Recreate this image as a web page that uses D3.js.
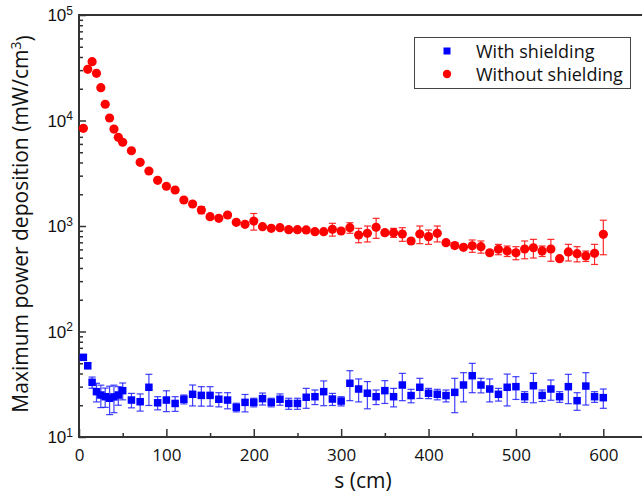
<!DOCTYPE html>
<html>
<head>
<meta charset="utf-8">
<script src="https://cdn.jsdelivr.net/npm/d3@7"></script>
<style>
  html, body { margin: 0; padding: 0; background: #fff; }
  svg { display: block; font-family: "Open Sans", "DejaVu Sans", sans-serif; }
</style>
</head>
<body>
<svg id="chart" width="642" height="496"></svg>
<script>
// ---- data ----
const sValues = [5,10,15,20,25,30,35,40,45,50,
  60,70,80,90,100,110,120,130,140,150,160,170,180,190,200,
  210,220,230,240,250,260,270,280,290,300,310,320,330,340,350,
  360,370,380,390,400,410,420,430,440,450,460,470,480,490,500,
  510,520,530,540,550,560,570,580,590,600];

const withoutShielding = [8430,30550,36100,28000,20450,14250,10560,8300,6930,6220,
  5170,4015,3320,2710,2380,2195,1763,1617,1418,1225,1183,1272,1084,1038,1114,
  985,951,964,923,923,917,883,883,931,897,964,822,853,973,865,
  865,840,721,840,793,853,695,653,628,650,637,558,602,580,558,
  605,622,580,605,490,568,547,520,551,834];

const withoutShieldingErr = [300,1000,1200,900,600,400,300,250,200,180,
  150,120,100,80,70,70,60,80,110,60,50,50,50,40,200,
  40,40,40,50,40,35,35,35,129,40,111,128,147,209,51,
  85,124,30,160,123,147,30,40,30,87,84,25,68,66,79,
  116,125,66,142,20,102,90,59,119,300];

const withShielding = [56.9,47.4,33.0,26.9,25.0,24.1,23.3,24.0,25.0,27.5,
  22.4,21.6,29.6,21.1,22.4,20.8,22.8,25.4,24.8,24.8,22.8,22.4,19.1,21.3,21.3,
  23.1,21.3,22.8,20.8,20.8,23.8,24.1,26.9,22.9,21.9,32.3,28.5,26.0,24.1,27.5,
  24.1,31.1,24.7,29.6,26.0,25.4,24.7,26.5,31.1,38.1,31.1,28.5,25.4,29.6,30.0,
  24.1,30.6,24.8,28.5,24.1,30.0,22.1,30.4,24.1,23.6];

const withShieldingErr = [3,3,4,5.4,6,5,7,7,5,5,
  3.5,4,9.7,3,5,3.3,2.2,5.7,5.2,5.2,3.5,3.9,1.8,4,2,
  3,2,2.8,2.5,2.5,5.1,3.8,7.1,3,2.2,10.2,7,7.5,3.8,6.7,
  4.8,9,3.6,6.4,2.9,2.9,3.2,9.5,9.6,11.8,4.9,7,3.5,9.9,7.3,
  2.8,9.5,3.1,6.2,2.8,9.3,4.2,10.3,2.8,4.9];

const xTicks = [0,100,200,300,400,500,600];
const xMinorTicks = [50,150,250,350,450,550,650];
const yTickExponents = [1,2,3,4,5];

const seriesNames = ["With shielding", "Without shielding"];

// ---- layout ----
const svg = d3.select("#chart");
const plotLeft = 79, plotRight = 647, plotTop = 15, plotBottom = 437;
const x = d3.scaleLinear().domain([0, 650]).range([plotLeft, plotRight]);
const y = d3.scaleLog().domain([10, 1e5]).range([plotBottom, plotTop]);

const axisColor = "#333";
const textColor = "#111";

// minor y ticks
const yMinor = [];
yTickExponents.slice(0, -1).forEach(e => {
  for (let k = 2; k <= 9; k++) yMinor.push(k * Math.pow(10, e));
});

// x axis minor ticks
svg.append("g")
  .attr("transform", `translate(0,${plotBottom})`)
  .call(d3.axisBottom(x).tickValues(xMinorTicks).tickSize(-4).tickFormat(""))
  .call(g => g.select(".domain").remove())
  .call(g => g.selectAll("line").attr("stroke", axisColor).attr("stroke-width", 1.5));

// x axis major
svg.append("g")
  .attr("transform", `translate(0,${plotBottom})`)
  .call(d3.axisBottom(x).tickValues(xTicks).tickSizeInner(-8).tickSizeOuter(0).tickPadding(12))
  .call(g => g.select(".domain").remove())
  .call(g => g.selectAll("line").attr("stroke", axisColor).attr("stroke-width", 1.5))
  .call(g => g.selectAll("text").attr("fill", textColor).style("font-size", "17px")
      .style("font-family", '"Open Sans", sans-serif'));

// y axis minor
svg.append("g")
  .attr("transform", `translate(${plotLeft},0)`)
  .call(d3.axisLeft(y).tickValues(yMinor).tickSize(-4).tickFormat(""))
  .call(g => g.select(".domain").remove())
  .call(g => g.selectAll("line").attr("stroke", axisColor).attr("stroke-width", 1.5));

// y axis major
const yMajor = yTickExponents.map(e => Math.pow(10, e));
const yAxisG = svg.append("g")
  .attr("transform", `translate(${plotLeft},0)`)
  .call(d3.axisLeft(y).tickValues(yMajor).tickSizeInner(-7).tickSizeOuter(0).tickPadding(6).tickFormat(""))
  .call(g => g.select(".domain").remove())
  .call(g => g.selectAll("line").attr("stroke", axisColor).attr("stroke-width", 1.5));

yAxisG.selectAll(".tick").each(function(d) {
  const t = d3.select(this).select("text");
  t.text(null).attr("fill", textColor).attr("x", -6).attr("dy", "0.35em")
    .style("font-size", "17px").attr("text-anchor", "end");
  t.append("tspan").text("10");
  t.append("tspan").text(String(Math.round(Math.log10(d))))
    .attr("dy", "-0.55em").style("font-size", "12px");
});

// frame lines: left, bottom, top
svg.append("line").attr("x1", plotLeft).attr("x2", plotLeft).attr("y1", plotTop).attr("y2", plotBottom + 1)
  .attr("stroke", axisColor).attr("stroke-width", 2);
svg.append("line").attr("x1", plotLeft - 1).attr("x2", 642).attr("y1", plotBottom).attr("y2", plotBottom)
  .attr("stroke", axisColor).attr("stroke-width", 2);
svg.append("line").attr("x1", plotLeft - 1).attr("x2", 642).attr("y1", plotTop).attr("y2", plotTop)
  .attr("stroke", axisColor).attr("stroke-width", 2);

// ---- series ----
function drawErrors(vals, errs, color) {
  const g = svg.append("g").attr("stroke", color).attr("stroke-width", 1.2).attr("fill", "none");
  const cap = 3.5;
  sValues.forEach((s, i) => {
    if (!errs[i]) return;
    const cx = x(s);
    const y1 = y(vals[i] + errs[i]);
    const y2 = y(Math.max(vals[i] - errs[i], 10.01));
    g.append("line").attr("x1", cx).attr("x2", cx).attr("y1", y1).attr("y2", y2);
    g.append("line").attr("x1", cx - cap).attr("x2", cx + cap).attr("y1", y1).attr("y2", y1);
    g.append("line").attr("x1", cx - cap).attr("x2", cx + cap).attr("y1", y2).attr("y2", y2);
  });
}

drawErrors(withShielding, withShieldingErr, "rgba(30,30,255,0.85)");
drawErrors(withoutShielding, withoutShieldingErr, "rgba(255,20,20,0.9)");

const sq = 7.5;
svg.append("g").selectAll("rect")
  .data(sValues.map((s, i) => [s, withShielding[i]]))
  .join("rect")
  .attr("x", d => x(d[0]) - sq / 2)
  .attr("y", d => y(d[1]) - sq / 2)
  .attr("width", sq).attr("height", sq)
  .attr("fill", "#0000ff");

svg.append("g").selectAll("circle")
  .data(sValues.map((s, i) => [s, withoutShielding[i]]))
  .join("circle")
  .attr("cx", d => x(d[0]))
  .attr("cy", d => y(d[1]))
  .attr("r", 4.6)
  .attr("fill", "#ff0000");

// ---- axis titles ----
svg.append("text")
  .attr("x", (plotLeft + plotRight) / 2).attr("y", 488)
  .attr("text-anchor", "middle").attr("fill", textColor)
  .style("font-size", "21px")
  .text("s (cm)");

const yt = svg.append("text")
  .attr("transform", `translate(28,${(plotTop + plotBottom) / 2 - 2}) rotate(-90)`)
  .attr("text-anchor", "middle").attr("fill", textColor)
  .style("font-size", "21px");
yt.append("tspan").text("Maximum power deposition (mW/cm");
yt.append("tspan").text("3").attr("dy", "-0.5em").style("font-size", "14px");
yt.append("tspan").text(")").attr("dy", "0.5em");

// ---- legend ----
const lg = svg.append("g");
lg.append("rect").attr("x", 414.5).attr("y", 37.5).attr("width", 216).attr("height", 51)
  .attr("fill", "#fff").attr("stroke", "#444").attr("stroke-width", 1);
lg.append("rect").attr("x", 447 - 3.5).attr("y", 51 - 3.5).attr("width", 7).attr("height", 7)
  .attr("fill", "#0000ff");
lg.append("circle").attr("cx", 447).attr("cy", 74).attr("r", 4.2).attr("fill", "#ff0000");
lg.append("text").attr("x", 476).attr("y", 57.5).attr("fill", textColor)
  .style("font-size", "18px").text(seriesNames[0]);
lg.append("text").attr("x", 476).attr("y", 80.5).attr("fill", textColor)
  .style("font-size", "18px").text(seriesNames[1]);
</script>
</body>
</html>
